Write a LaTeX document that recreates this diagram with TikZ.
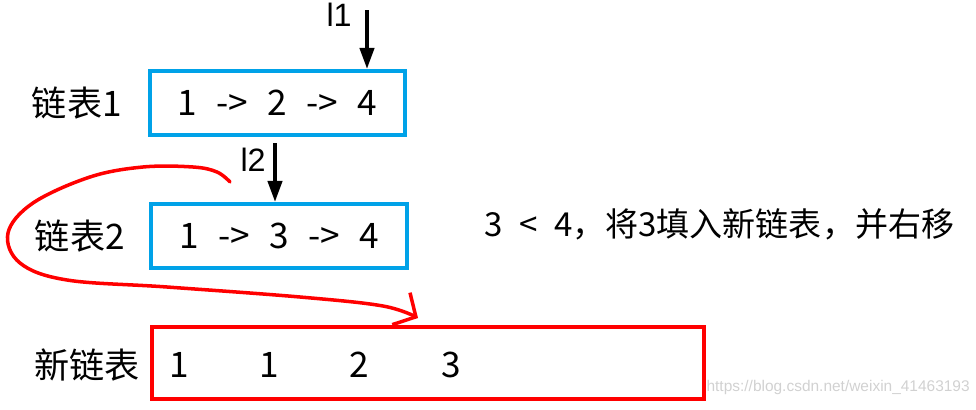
\documentclass[tikz,border=0pt]{standalone}
\usepackage{fontspec}
\setmainfont{Noto Sans CJK SC}
\newfontfamily\wmfont{Liberation Sans}
\usetikzlibrary{arrows.meta,positioning,calc}
\definecolor{Lblue}{RGB}{0,162,232}
\definecolor{Lred}{RGB}{255,0,0}
\newcommand{\gp}{\hspace{0.55em}}

\begin{document}
\begin{tikzpicture}[x=0.025cm,y=-0.025cm,
  big/.style={font=\fontsize{25}{28}\selectfont, inner sep=0pt},
  listbox/.style={draw=Lblue, line width=2.8pt, minimum width=6.375cm,
    minimum height=1.6cm, inner sep=0pt, big},
  newbox/.style={draw=Lred, line width=2.8pt, minimum width=13.8cm,
    minimum height=1.8cm, inner sep=0pt},
  ptr/.style={line width=2.8pt, -{Triangle[length=15pt,width=10pt]}},
  redcurve/.style={draw=Lred, line width=2.5pt, line cap=round, line join=round,
    -{Straight Barb[length=12pt,width=26pt,line width=2.5pt]}}
]
\useasboundingbox (0,0) rectangle (976,409);

% the two lists
\node[listbox] (box1) at (277.5,103) {1\gp->\gp2\gp->\gp4};
\node[listbox] (box2) at (279,236) {1\gp->\gp3\gp->\gp4};
\node[big, anchor=east] (name1) at (122,103) {链表1};
\node[big, anchor=east] (name2) at (125,236) {链表2};

% pointers l1, l2
\coordinate (l1top) at (367,10);
\coordinate (l2top) at (275,143);
\node[big, anchor=east, font=\wmfont\fontsize{23}{26}\selectfont] (l1) at (352,15) {l1};
\node[big, anchor=east, font=\wmfont\fontsize{23}{26}\selectfont] (l2) at (266,160) {l2};
\draw[ptr] (l1top) -- (l1top |- box1.north);
\draw[ptr] (l2top) -- (l2top |- box2.north);

% new list
\node[newbox] (box3) at (428,363) {};
\node[big, anchor=east] (name3) at (140,365) {新链表};
\node[big] (v1) at (179,365) {1};
\node[big] (v2) at (269,365) {1};
\node[big] (v3) at (359,365) {2};
\node[big] (v4) at (451,365) {3};

% comparison note
\node[big, anchor=west, font=\fontsize{23.5}{26}\selectfont] (note) at (484,224)
  {3\hspace{0.5em}<\hspace{0.5em}4，将3填入新链表，并右移};

% hand drawn red arrow
\coordinate (cstart) at (230,182);
\coordinate (cend) at (418,318);
\draw[redcurve] plot[smooth, tension=0.6] coordinates {
  (cstart) (217,172) (193,167) (143,167) (90,177) (33,203) (8,233)
  (20,263) (67,280) (167,287) (300,297) (383,306) (cend)};

% watermark
\node[anchor=east, font=\wmfont\fontsize{11}{12}\selectfont, text=black!18,
  inner sep=0pt] (wm) at (970,387) {https://blog.csdn.net/weixin\_41463193};
\end{tikzpicture}
\end{document}
